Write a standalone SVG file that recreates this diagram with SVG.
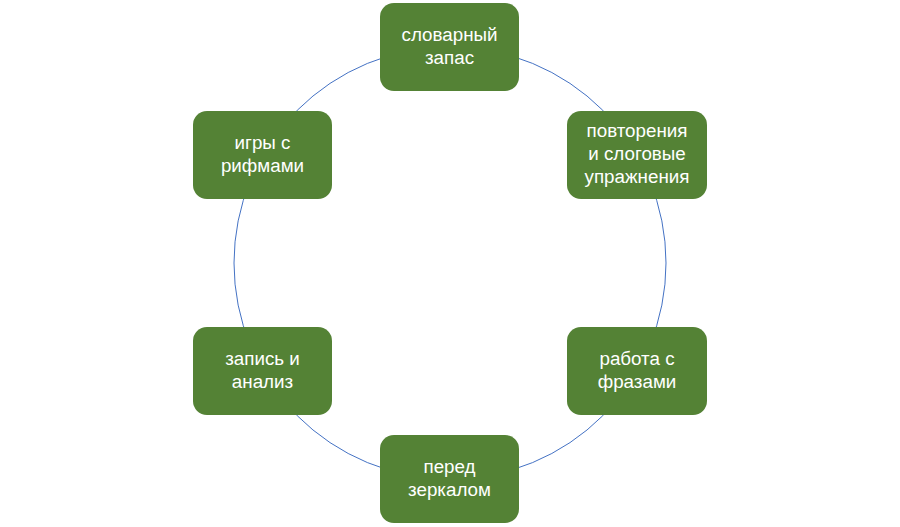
<svg xmlns="http://www.w3.org/2000/svg" width="900" height="527" viewBox="0 0 900 527">
<style>
.node rect{fill:#548235;stroke:none}
.node text{fill:#ffffff;font-family:"Liberation Sans","Open Sans",sans-serif;font-size:18.8px;text-anchor:middle}
.conn{fill:none;stroke:#4472C4;stroke-width:1}
</style>
<rect width="900" height="527" fill="#ffffff"/>
<g id="connectors">
<circle class="conn" cx="450" cy="263" r="216"/>
</g>
<g id="n1" class="node"><rect x="380" y="3" width="139" height="88" rx="14"/><text x="449.5" y="41">словарный</text><text x="449.5" y="64">запас</text></g>
<g id="n2" class="node"><rect x="567" y="111" width="140" height="88" rx="14"/><text x="637" y="137">повторения</text><text x="637" y="160">и слоговые</text><text x="637" y="183">упражнения</text></g>
<g id="n3" class="node"><rect x="567" y="327" width="140" height="88" rx="14"/><text x="637" y="365">работа с</text><text x="637" y="388">фразами</text></g>
<g id="n4" class="node"><rect x="380" y="435" width="139" height="88" rx="14"/><text x="449.5" y="473">перед</text><text x="449.5" y="496">зеркалом</text></g>
<g id="n5" class="node"><rect x="193" y="327" width="139" height="88" rx="14"/><text x="262.5" y="365">запись и</text><text x="262.5" y="388">анализ</text></g>
<g id="n6" class="node"><rect x="193" y="111" width="139" height="88" rx="14"/><text x="262.5" y="149">игры с</text><text x="262.5" y="172">рифмами</text></g>
</svg>
